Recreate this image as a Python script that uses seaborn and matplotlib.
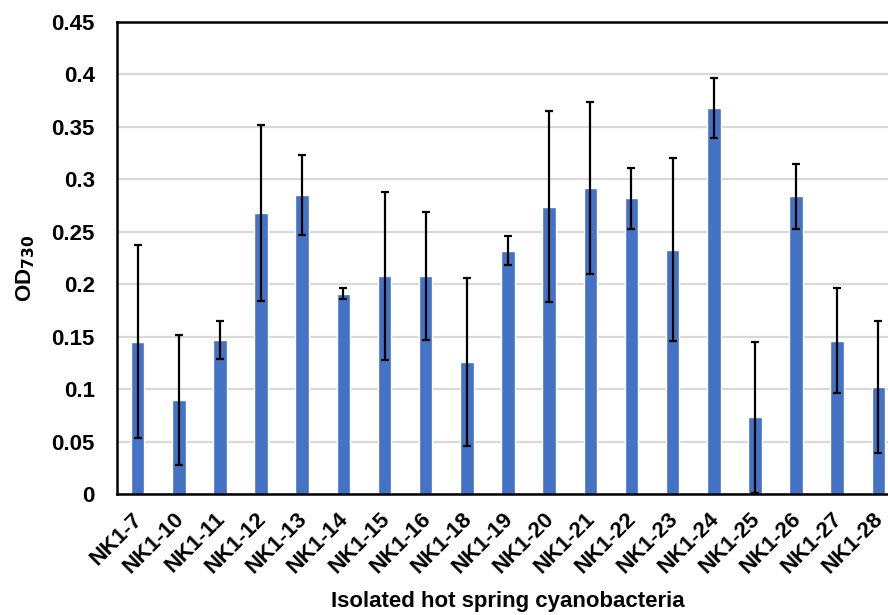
import matplotlib
matplotlib.use("Agg")
import matplotlib.pyplot as plt
from matplotlib.transforms import ScaledTranslation
import seaborn as sns
import pandas as pd

# Isolates and their mean OD730 with standard deviation
strains = ["NK1-7", "NK1-10", "NK1-11", "NK1-12", "NK1-13", "NK1-14", "NK1-15",
           "NK1-16", "NK1-18", "NK1-19", "NK1-20", "NK1-21", "NK1-22", "NK1-23",
           "NK1-24", "NK1-25", "NK1-26", "NK1-27", "NK1-28"]
od730 = [0.145, 0.090, 0.147, 0.268, 0.285, 0.191, 0.208, 0.208, 0.126, 0.232,
         0.274, 0.292, 0.282, 0.233, 0.368, 0.073, 0.284, 0.146, 0.102]
od730_sd = [0.092, 0.062, 0.018, 0.084, 0.038, 0.005, 0.080, 0.061, 0.080, 0.014,
            0.091, 0.082, 0.029, 0.087, 0.029, 0.072, 0.031, 0.050, 0.063]
y_ticks = [0, 0.05, 0.1, 0.15, 0.2, 0.25, 0.3, 0.35, 0.4, 0.45]
y_tick_labels = ["0", "0.05", "0.1", "0.15", "0.2", "0.25", "0.3", "0.35", "0.4", "0.45"]

df = pd.DataFrame({"strain": strains, "od": od730, "sd": od730_sd})

sns.set_style("white")
plt.rcParams["font.family"] = ["Liberation Sans", "DejaVu Sans"]
plt.rcParams["font.weight"] = "bold"
plt.rcParams["mathtext.default"] = "regular"
for key in ["text.color", "axes.labelcolor", "xtick.color", "ytick.color"]:
    plt.rcParams[key] = "black"

fig = plt.figure(figsize=(8.88, 6.15), dpi=100)
ax = fig.add_axes([117 / 888, 1 - 494 / 615, (899 - 117) / 888, (494 - 22) / 615])

sns.barplot(data=df, x="strain", y="od", color="#4472C4", saturation=1,
            width=0.33, errorbar=None, ax=ax, zorder=2)
ax.errorbar(x=range(len(df)), y=df["od"], yerr=df["sd"], fmt="none",
            ecolor="black", elinewidth=1.6, capsize=3.2, capthick=1.6, zorder=3)

ax.set_xlim(-0.5, len(strains) - 0.5)
ax.set_ylim(0, 0.45)
ax.set_yticks(y_ticks)
ax.set_yticklabels(y_tick_labels, fontsize=16, fontweight="bold")
ax.set_xticks(range(len(strains)))
ax.set_xticklabels(strains, rotation=45, ha="right", va="top",
                   rotation_mode="anchor", fontsize=16, fontweight="bold")
ax.tick_params(axis="both", length=0)
ax.tick_params(axis="y", pad=16)
ax.tick_params(axis="x", pad=10.5)
shift = ScaledTranslation(-4 / 72, 0, fig.dpi_scale_trans)
for lbl in ax.get_xticklabels():
    lbl.set_transform(lbl.get_transform() + shift)

ax.yaxis.grid(True, color="#d9d9d9", linewidth=1.6, zorder=0)
ax.set_axisbelow(True)

for side in ["left", "bottom", "top"]:
    ax.spines[side].set_visible(True)
    ax.spines[side].set_color("black")
    ax.spines[side].set_linewidth(1.8)
ax.spines["right"].set_visible(False)

ax.set_xlabel("Isolated hot spring cyanobacteria", fontsize=16, fontweight="bold",
              va="center")
ax.xaxis.set_label_coords(0.5, (494 - 601) / 472)
ax.set_ylabel(r"OD$_{\mathbf{730}}$", fontsize=16, fontweight="bold", va="center")
ax.yaxis.set_label_coords((26 - 117) / 782, (494 - 268) / 472)

fig.savefig("out.png", dpi=100)
